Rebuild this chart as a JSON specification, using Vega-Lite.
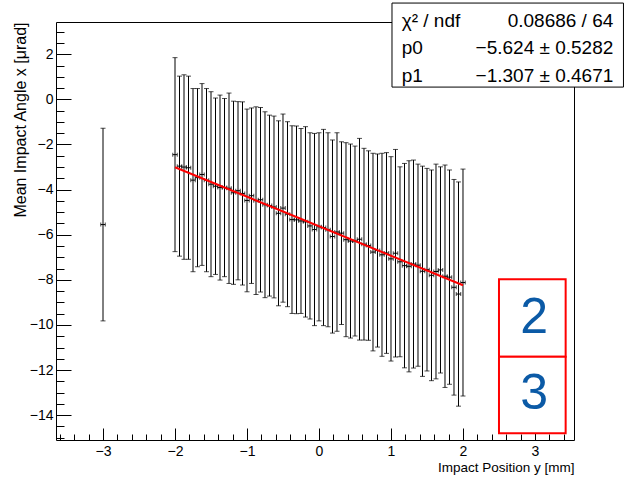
{
  "$schema": "https://vega.github.io/schema/vega-lite/v6.json",
  "width": 518,
  "height": 418,
  "autosize": {"type": "none"},
  "padding": {"left": 56, "top": 22, "right": 50, "bottom": 39},
  "background": "white",
  "config": {
    "font": "Liberation Sans",
    "view": {"stroke": "black", "strokeWidth": 1},
    "axis": {
      "domain": false,
      "grid": false,
      "tickColor": "black",
      "tickWidth": 1,
      "tickCount": 200,
      "labelColor": "black",
      "labelFont": "Liberation Sans",
      "labelFontSize": 14,
      "labelOverlap": false,
      "labelFlush": false,
      "labelBound": false,
      "titleColor": "black",
      "titleFont": "Liberation Sans",
      "titleFontSize": 13.5,
      "titleFontWeight": "normal"
    }
  },
  "datasets": {
    "points": [
      {"x": -3, "y": -5.55, "ey": 4.27, "ex": 0.03125},
      {"x": -2, "y": -2.45, "ey": 4.30, "ex": 0.03125},
      {"x": -1.9375, "y": -2.96, "ey": 3.99, "ex": 0.03125},
      {"x": -1.875, "y": -3.00, "ey": 4.09, "ex": 0.03125},
      {"x": -1.8125, "y": -3.03, "ey": 4.06, "ex": 0.03125},
      {"x": -1.75, "y": -3.58, "ey": 4.06, "ex": 0.03125},
      {"x": -1.6875, "y": -3.47, "ey": 3.95, "ex": 0.03125},
      {"x": -1.625, "y": -3.33, "ey": 4.03, "ex": 0.03125},
      {"x": -1.5625, "y": -3.58, "ey": 4.06, "ex": 0.03125},
      {"x": -1.5, "y": -3.76, "ey": 4.10, "ex": 0.03125},
      {"x": -1.4375, "y": -3.85, "ey": 3.91, "ex": 0.03125},
      {"x": -1.375, "y": -3.91, "ey": 4.10, "ex": 0.03125},
      {"x": -1.3125, "y": -3.91, "ey": 3.95, "ex": 0.03125},
      {"x": -1.25, "y": -3.94, "ey": 4.22, "ex": 0.03125},
      {"x": -1.1875, "y": -4.14, "ey": 4.06, "ex": 0.03125},
      {"x": -1.125, "y": -4.05, "ey": 3.95, "ex": 0.03125},
      {"x": -1.0625, "y": -4.17, "ey": 4.06, "ex": 0.03125},
      {"x": -1.0, "y": -4.48, "ey": 4.05, "ex": 0.03125},
      {"x": -0.9375, "y": -4.27, "ey": 3.89, "ex": 0.03125},
      {"x": -0.875, "y": -4.49, "ey": 4.16, "ex": 0.03125},
      {"x": -0.8125, "y": -4.45, "ey": 4.09, "ex": 0.03125},
      {"x": -0.75, "y": -4.67, "ey": 4.12, "ex": 0.03125},
      {"x": -0.6875, "y": -4.71, "ey": 4.01, "ex": 0.03125},
      {"x": -0.625, "y": -4.77, "ey": 4.03, "ex": 0.03125},
      {"x": -0.5625, "y": -5.05, "ey": 4.10, "ex": 0.03125},
      {"x": -0.5, "y": -4.82, "ey": 4.17, "ex": 0.03125},
      {"x": -0.4375, "y": -5.09, "ey": 4.10, "ex": 0.03125},
      {"x": -0.375, "y": -5.33, "ey": 4.16, "ex": 0.03125},
      {"x": -0.3125, "y": -5.34, "ey": 4.16, "ex": 0.03125},
      {"x": -0.25, "y": -5.39, "ey": 4.10, "ex": 0.03125},
      {"x": -0.1875, "y": -5.43, "ey": 4.22, "ex": 0.03125},
      {"x": -0.125, "y": -5.61, "ey": 4.13, "ex": 0.03125},
      {"x": -0.0625, "y": -5.77, "ey": 4.26, "ex": 0.03125},
      {"x": 0, "y": -5.65, "ey": 4.17, "ex": 0.03125},
      {"x": 0.0625, "y": -5.68, "ey": 4.35, "ex": 0.03125},
      {"x": 0.125, "y": -5.78, "ey": 4.30, "ex": 0.03125},
      {"x": 0.1875, "y": -6.08, "ey": 4.28, "ex": 0.03125},
      {"x": 0.25, "y": -5.88, "ey": 4.40, "ex": 0.03125},
      {"x": 0.3125, "y": -5.93, "ey": 4.05, "ex": 0.03125},
      {"x": 0.375, "y": -6.22, "ey": 4.30, "ex": 0.03125},
      {"x": 0.4375, "y": -6.28, "ey": 4.30, "ex": 0.03125},
      {"x": 0.5, "y": -6.28, "ey": 4.21, "ex": 0.03125},
      {"x": 0.5625, "y": -6.20, "ey": 4.47, "ex": 0.03125},
      {"x": 0.625, "y": -6.42, "ey": 4.25, "ex": 0.03125},
      {"x": 0.6875, "y": -6.48, "ey": 4.20, "ex": 0.03125},
      {"x": 0.75, "y": -6.77, "ey": 4.38, "ex": 0.03125},
      {"x": 0.8125, "y": -6.70, "ey": 4.28, "ex": 0.03125},
      {"x": 0.875, "y": -6.89, "ey": 4.50, "ex": 0.03125},
      {"x": 0.9375, "y": -6.81, "ey": 4.45, "ex": 0.03125},
      {"x": 1.0, "y": -7.07, "ey": 4.53, "ex": 0.03125},
      {"x": 1.0625, "y": -6.82, "ey": 4.60, "ex": 0.03125},
      {"x": 1.125, "y": -7.20, "ey": 4.21, "ex": 0.03125},
      {"x": 1.1875, "y": -7.37, "ey": 4.53, "ex": 0.03125},
      {"x": 1.25, "y": -7.40, "ey": 4.68, "ex": 0.03125},
      {"x": 1.3125, "y": -7.30, "ey": 4.61, "ex": 0.03125},
      {"x": 1.375, "y": -7.35, "ey": 4.48, "ex": 0.03125},
      {"x": 1.4375, "y": -7.62, "ey": 4.66, "ex": 0.03125},
      {"x": 1.5, "y": -7.55, "ey": 4.49, "ex": 0.03125},
      {"x": 1.5625, "y": -7.80, "ey": 4.67, "ex": 0.03125},
      {"x": 1.625, "y": -7.63, "ey": 4.76, "ex": 0.03125},
      {"x": 1.6875, "y": -7.56, "ey": 4.57, "ex": 0.03125},
      {"x": 1.75, "y": -7.84, "ey": 4.93, "ex": 0.03125},
      {"x": 1.8125, "y": -7.88, "ey": 4.75, "ex": 0.03125},
      {"x": 1.875, "y": -8.33, "ey": 4.78, "ex": 0.03125},
      {"x": 1.9375, "y": -8.63, "ey": 4.97, "ex": 0.03125},
      {"x": 2.0, "y": -8.12, "ey": 5.03, "ex": 0.03125}
    ],
    "fit": [
      {"x": -2, "y": -3.010},
      {"x": 2, "y": -8.238}
    ]
  },
  "layer": [
    {
      "data": {"name": "points"},
      "mark": {"type": "errorbar", "ticks": {"size": 5}, "thickness": 1, "color": "black"},
      "encoding": {
        "x": {
          "field": "x", "type": "quantitative",
          "title": "Impact Position y [mm]",
          "scale": {"domain": [-3.653, 3.542], "nice": false, "zero": false},
          "axis": {
            "titleAnchor": "end",
            "titleAlign": "right",
            "titleBaseline": "alphabetic",
            "titleY": 31.5,
            "values": [-3.6,-3.4,-3.2,-3,-2.8,-2.6,-2.4,-2.2,-2,-1.8,-1.6,-1.4,-1.2,-1,-0.8,-0.6,-0.4,-0.2,0,0.2,0.4,0.6,0.8,1,1.2,1.4,1.6,1.8,2,2.2,2.4,2.6,2.8,3,3.2,3.4],
            "labelExpr": "abs(datum.value - round(datum.value)) < 0.001 ? format(round(datum.value), 'd') : ''",
            "tickSize": {"condition": {"test": "abs(datum.value - round(datum.value)) < 0.001", "value": -12}, "value": -6},
            "labelPadding": 16
          }
        },
        "y": {
          "field": "y", "type": "quantitative",
          "title": "Mean Impact Angle x [μrad]",
          "scale": {"domain": [-15.1, 3.43], "nice": false, "zero": false},
          "axis": {
            "titleAnchor": "end",
            "titlePadding": 1,
            "titleFontSize": 16,
            "values": [-15,-14.5,-14,-13.5,-13,-12.5,-12,-11.5,-11,-10.5,-10,-9.5,-9,-8.5,-8,-7.5,-7,-6.5,-6,-5.5,-5,-4.5,-4,-3.5,-3,-2.5,-2,-1.5,-1,-0.5,0,0.5,1,1.5,2,2.5,3],
            "labelExpr": "abs(datum.value/2 - round(datum.value/2)) < 0.001 ? format(round(datum.value), 'd') : ''",
            "tickSize": {"condition": {"test": "abs(datum.value/2 - round(datum.value/2)) < 0.001", "value": -15}, "value": -8},
            "labelPadding": 18
          }
        },
        "yError": {"field": "ey"}
      }
    },
    {
      "data": {"name": "points"},
      "mark": {"type": "errorbar", "ticks": {"size": 4}, "thickness": 1, "color": "black"},
      "encoding": {
        "x": {"field": "x", "type": "quantitative", "title": "Impact Position y [mm]"},
        "xError": {"field": "ex"},
        "y": {"field": "y", "type": "quantitative", "title": "Mean Impact Angle x [μrad]"}
      }
    },
    {
      "data": {"name": "fit"},
      "mark": {"type": "line", "color": "#ff0000", "strokeWidth": 2},
      "encoding": {
        "x": {"field": "x", "type": "quantitative", "title": "Impact Position y [mm]"},
        "y": {"field": "y", "type": "quantitative", "title": "Mean Impact Angle x [μrad]"}
      }
    },
    {
      "data": {"values": [{}]},
      "mark": {"type": "rect", "fill": "white", "stroke": "black", "strokeWidth": 1, "clip": false},
      "encoding": {
        "x": {"datum": 1.014, "type": "quantitative"},
        "x2": {"datum": 4.229},
        "y": {"datum": 4.27, "type": "quantitative"},
        "y2": {"datum": 0.545}
      }
    },
    {
      "data": {"values": [{}]},
      "mark": {"type": "text", "align": "left", "baseline": "alphabetic", "fontSize": 19, "lineHeight": 27.6, "font": "Liberation Sans", "color": "black", "clip": false,
        "text": ["χ² / ndf", "p0", "p1"]},
      "encoding": {
        "x": {"datum": 1.149, "type": "quantitative"},
        "y": {"datum": 3.227, "type": "quantitative"}
      }
    },
    {
      "data": {"values": [{}]},
      "mark": {"type": "text", "align": "right", "baseline": "alphabetic", "fontSize": 19, "lineHeight": 27.6, "font": "Liberation Sans", "color": "black", "clip": false,
        "text": ["0.08686 / 64", "−5.624 ± 0.5282", "−1.307 ± 0.4671"]},
      "encoding": {
        "x": {"datum": 4.088, "type": "quantitative"},
        "y": {"datum": 3.227, "type": "quantitative"}
      }
    },
    {
      "data": {"values": [{}]},
      "mark": {"type": "rect", "fill": "white", "stroke": "#ff0000", "strokeWidth": 2, "clip": false},
      "encoding": {
        "x": {"datum": 2.5, "type": "quantitative"},
        "x2": {"datum": 3.426},
        "y": {"datum": -7.97, "type": "quantitative"},
        "y2": {"datum": -11.41}
      }
    },
    {
      "data": {"values": [{}]},
      "mark": {"type": "rect", "fill": "white", "stroke": "#ff0000", "strokeWidth": 2, "clip": false},
      "encoding": {
        "x": {"datum": 2.5, "type": "quantitative"},
        "x2": {"datum": 3.426},
        "y": {"datum": -11.41, "type": "quantitative"},
        "y2": {"datum": -14.8}
      }
    },
    {
      "data": {"values": [{}]},
      "mark": {"type": "text", "text": "2", "align": "center", "baseline": "middle", "fontSize": 50, "font": "Liberation Sans", "color": "#0b5aa6"},
      "encoding": {
        "x": {"datum": 2.99, "type": "quantitative"},
        "y": {"datum": -9.7, "type": "quantitative"}
      }
    },
    {
      "data": {"values": [{}]},
      "mark": {"type": "text", "text": "3", "align": "center", "baseline": "middle", "fontSize": 50, "font": "Liberation Sans", "color": "#0b5aa6"},
      "encoding": {
        "x": {"datum": 2.99, "type": "quantitative"},
        "y": {"datum": -13.05, "type": "quantitative"}
      }
    }
  ]
}
